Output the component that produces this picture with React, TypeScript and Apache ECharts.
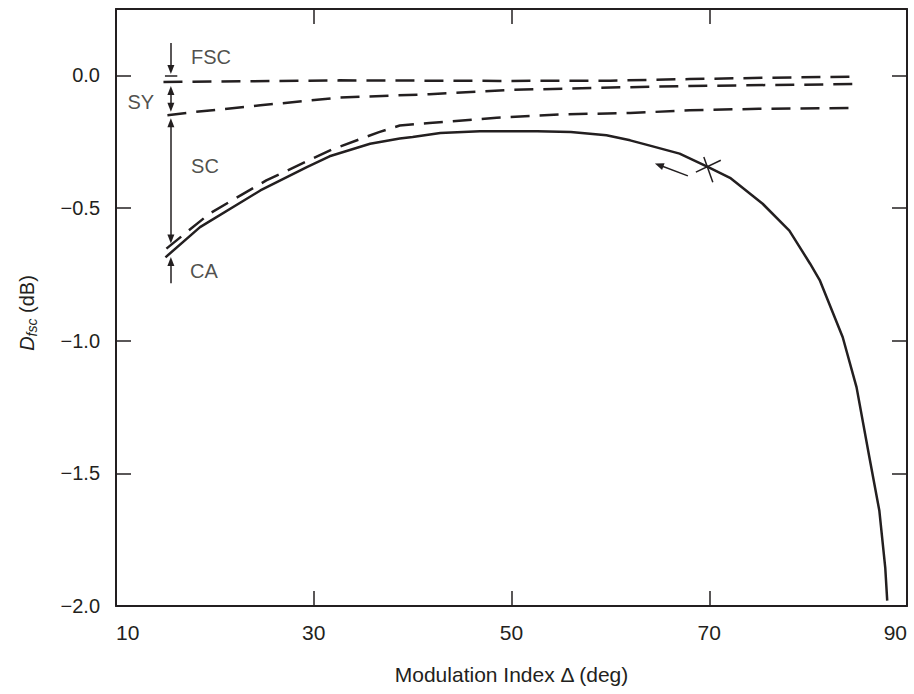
import React, { useEffect, useRef } from "react";
import * as echarts from "echarts";

const INK = "#231f20";
const FONT = '"Liberation Sans", Arial, Helvetica, sans-serif';

const xTicks = [10, 30, 50, 70, 90];
const yTicks = [0, -0.5, -1.0, -1.5, -2.0];

// Solid curve
const solidCurve: [number, number][] = [
  [15, -0.686], [18.5, -0.572], [24.6, -0.434], [29.3, -0.346], [31.6, -0.305],
  [35.7, -0.258], [38.7, -0.238], [40, -0.232], [42.8, -0.217], [46.8, -0.211],
  [52.6, -0.211], [56, -0.214], [59.6, -0.226], [62, -0.245], [64, -0.265],
  [67, -0.295], [69.9, -0.346], [72.1, -0.386], [75.4, -0.484], [78.1, -0.585],
  [80.2, -0.71], [81.2, -0.774], [83.5, -0.987], [84.9, -1.176], [86.2, -1.44],
  [87.2, -1.64], [87.8, -1.855], [88, -1.98],
];

// Dashed curve just above the solid one
const dashedLow: [number, number][] = [
  [15.1, -0.653], [19.5, -0.52], [25.2, -0.396], [31.8, -0.28], [36.6, -0.214],
  [38.7, -0.189], [41.7, -0.18], [48.5, -0.16], [55.2, -0.147], [62, -0.142],
  [68, -0.132], [75, -0.126], [84.7, -0.123],
];

// Middle dashed curve (SY lower edge)
const dashedMid: [number, number][] = [
  [15.2, -0.15], [18, -0.138], [24.6, -0.113], [32.6, -0.084], [41.7, -0.071],
  [49.8, -0.055], [58.9, -0.047], [68, -0.04], [84.7, -0.033],
];

// Top dashed curve (FSC lower edge)
const dashedTop: [number, number][] = [
  [14.8, -0.025], [32.6, -0.019], [48.8, -0.021], [60, -0.02], [68, -0.014],
  [76, -0.009], [84.7, -0.005],
];

// Annotation labels [x, y, text]
const annoLabels: [number, number, string][] = [
  [19.6, 0.069, "FSC"],
  [12.5, -0.1, "SY"],
  [19.0, -0.342, "SC"],
  [18.9, -0.738, "CA"],
];

// Annotation segments: [x1, y1, x2, y2, startArrow, endArrow]
const annoSegments: [number, number, number, number, boolean, boolean][] = [
  [15.55, 0.122, 15.55, 0.022, false, true],     // FSC arrow
  [14.95, 0.0, 16.2, 0.0, false, false],         // zero bar
  [15.55, -0.057, 15.55, -0.12, true, true],     // SY
  [15.55, -0.179, 15.55, -0.617, true, true],    // SC
  [15.55, -0.784, 15.55, -0.702, false, true],   // CA
  [68.65, -0.365, 71.17, -0.32, false, false],   // X mark
  [69.45, -0.308, 70.36, -0.403, false, false],  // X mark
  [67.84, -0.379, 64.93, -0.338, false, true],   // direction arrow
];

const dashStyle = { color: INK, width: 2.5, type: [19, 10] as number[] };

export default function App() {
  const ref = useRef<HTMLDivElement>(null);
  useEffect(() => {
    if (!ref.current) return;
    const chart = echarts.init(ref.current, null, { renderer: "svg" });
    const axisLine = { show: true, onZero: false, lineStyle: { color: INK, width: 2 } };
    const tickStyle = { color: INK, width: 1.5 };
    chart.setOption({
      animation: false,
      textStyle: { fontFamily: FONT },
      grid: { left: 116, right: 7, top: 9, bottom: 88, outerBoundsMode: "none" },
      xAxis: [
        {
          type: "value", min: 10, max: 90, interval: 20, position: "bottom",
          axisLine, axisTick: { inside: true, length: 15, lineStyle: tickStyle },
          axisLabel: {
            margin: 16, fontSize: 21, color: INK, fontFamily: FONT,
            alignMinLabel: "left", alignMaxLabel: "right",
          },
          splitLine: { show: false },
          name: "Modulation Index \u0394 (deg)", nameLocation: "middle", nameGap: 58,
          nameTextStyle: { fontSize: 21, color: INK, fontFamily: FONT },
        },
        {
          type: "value", min: 10, max: 90, interval: 20, position: "top",
          axisLine, axisTick: { inside: true, length: 15, lineStyle: tickStyle },
          axisLabel: { show: false }, splitLine: { show: false },
        },
      ],
      yAxis: [
        {
          type: "value", min: -2, max: 0.25, position: "left",
          axisLine, axisTick: { inside: true, length: 15, lineStyle: tickStyle, customValues: yTicks },
          axisLabel: {
            customValues: yTicks, margin: 16, fontSize: 20, color: INK, fontFamily: FONT,
            formatter: (v: number) => (Math.abs(v) < 1e-9 ? "0.0" : "\u2212" + Math.abs(v).toFixed(1)),
          },
          splitLine: { show: false },
        },
        {
          type: "value", min: -2, max: 0.25, position: "right",
          axisLine, axisTick: { inside: true, length: 15, lineStyle: tickStyle, customValues: yTicks },
          axisLabel: { show: false }, splitLine: { show: false },
        },
      ],
      graphic: [
        {
          type: "text", x: 27, y: 313, rotation: Math.PI / 2,
          style: {
            text: "{i|D}{s|fsc}{n| (dB)}",
            align: "center", verticalAlign: "middle", fill: INK,
            rich: {
              i: { fontSize: 20, fontStyle: "italic", fontFamily: FONT, fill: INK, lineHeight: 24 },
              s: { fontSize: 14, fontStyle: "italic", fontFamily: FONT, fill: INK, lineHeight: 14, verticalAlign: "bottom" },
              n: { fontSize: 20, fontFamily: FONT, fill: INK, lineHeight: 24 },
            },
          },
        },
      ],
      series: [
        {
          type: "line", data: solidCurve, showSymbol: false, symbol: "none",
          lineStyle: { color: INK, width: 2.5 }, z: 3,
        },
        { type: "line", data: dashedLow, symbol: "none", lineStyle: dashStyle },
        { type: "line", data: dashedMid, symbol: "none", lineStyle: dashStyle },
        { type: "line", data: dashedTop, symbol: "none", lineStyle: dashStyle },
        {
          type: "scatter", symbolSize: 0,
          data: annoLabels.map((d) => [d[0], d[1], d[2]]),
          label: {
            show: true, position: "inside", fontSize: 20, color: INK, fontFamily: FONT,
            formatter: (p: any) => p.data[2],
          },
          markLine: {
            silent: true, animation: false,
            symbol: ["none", "none"], symbolSize: [7, 9],
            label: { show: false },
            lineStyle: { color: INK, width: 1.5, type: "solid" },
            itemStyle: { color: INK },
            emphasis: { disabled: true },
            data: annoSegments.map((s) => [
              { coord: [s[0], s[1]], symbol: s[4] ? "triangle" : "none" },
              { coord: [s[2], s[3]], symbol: s[5] ? "triangle" : "none" },
            ]),
          },
        },
      ],
    });
    return () => chart.dispose();
  }, []);
  return (
    <div
      ref={ref}
      style={{ position: "absolute", left: 0, top: 0, width: 914, height: 694, background: "#fff" }}
    />
  );
}
